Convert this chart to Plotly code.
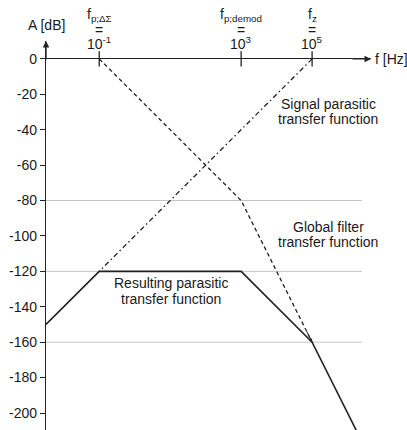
import numpy as np
import plotly.graph_objects as go

# ---- data (frequency in Hz, amplitude in dB) ----
signal_f = [1e-1, 1e3, 1e5]
signal_a = [0, -80, -160]

filter_f = [1e5, 1e-1]
filter_a = [0, -120]

result_f = [10**-2.5, 1e-1, 1e3, 1e5, 10**6.25]
result_a = [-150, -120, -120, -160, -210]

tick_f = [1e-1, 1e3, 1e5]
tick_names = ["f<sub>p;ΔΣ</sub>", "f<sub>p;demod</sub>", "f<sub>z</sub>"]
tick_exp = ["10<sup>-1</sup>", "10<sup>3</sup>", "10<sup>5</sup>"]

y_ticks = list(range(0, -201, -20))
grid_levels = [-80, -120, -160]

x_range_log = [-2.5, 6.66]
y_range = [-209.6, 10.1]

FONT = "Liberation Sans, Arial, sans-serif"
TXT = "#1a1a1a"
LINE = "#222222"
FS = 14

fig = go.Figure()

# grid lines
for g in grid_levels:
    fig.add_shape(type="line", xref="paper", yref="y", x0=0, x1=0.972, y0=g, y1=g,
                  line=dict(color="#c4c4c4", width=1), layer="below")

fig.add_trace(go.Scatter(x=signal_f, y=signal_a, mode="lines",
                         line=dict(color=LINE, width=1.3, dash="4px,3px"), hoverinfo="skip"))
fig.add_trace(go.Scatter(x=filter_f, y=filter_a, mode="lines",
                         line=dict(color=LINE, width=1.3, dash="5px,3px,1.5px,3px"), hoverinfo="skip"))
fig.add_trace(go.Scatter(x=result_f, y=result_a, mode="lines",
                         line=dict(color=LINE, width=1.6), hoverinfo="skip"))
fig.add_trace(go.Scatter(x=tick_f, y=[0] * len(tick_f), mode="markers",
                         marker=dict(symbol="line-ns-open", size=11, color=LINE,
                                     line=dict(color=LINE, width=1.3)),
                         hoverinfo="skip", cliponaxis=False))

ann = []
# x-axis arrow
ann.append(dict(x=x_range_log[1], y=0, xref="x", yref="y", text="", showarrow=True,
                ax=-20, ay=0, arrowhead=2, arrowsize=1, arrowwidth=1.3, arrowcolor=LINE, standoff=0))
# y-axis arrow
ann.append(dict(x=x_range_log[0], y=y_range[1], xref="x", yref="y", text="", showarrow=True,
                ax=0, ay=20, arrowhead=2, arrowsize=1, arrowwidth=1.3, arrowcolor=LINE, standoff=0))
# dashed arrow end
ann.append(dict(x=np.log10(signal_f[-1]), y=signal_a[-1], xref="x", yref="y", text="", showarrow=True,
                ax=-6, ay=-12, arrowhead=2, arrowsize=0.7, arrowwidth=1, arrowcolor=LINE, standoff=0))

ann.append(dict(x=x_range_log[1], y=0, xref="x", yref="y", text="f [Hz]", showarrow=False,
                xanchor="left", xshift=2, font=dict(family=FONT, size=FS, color=TXT)))
ann.append(dict(x=x_range_log[0], y=0, xref="x", yref="y", text="A [dB]", showarrow=False,
                yshift=34, font=dict(family=FONT, size=FS, color=TXT)))

for f, nm, ex in zip(tick_f, tick_names, tick_exp):
    lx = np.log10(f)
    ann.append(dict(x=lx, y=0, xref="x", yref="y", text=ex, showarrow=False, yshift=16,
                    font=dict(family=FONT, size=FS, color=TXT)))
    ann.append(dict(x=lx, y=0, xref="x", yref="y", text="=", showarrow=False, yshift=29,
                    font=dict(family=FONT, size=FS, color=TXT)))
    ann.append(dict(x=lx, y=0, xref="x", yref="y", text=nm, showarrow=False, yshift=44,
                    font=dict(family=FONT, size=FS, color=TXT)))

labels = [
    ("Signal parasitic", 5.45, -25.5),
    ("transfer function", 5.45, -34.0),
    ("Global filter", 5.45, -95.0),
    ("transfer function", 5.45, -103.5),
    ("Resulting parasitic", 1.03, -126.5),
    ("transfer function", 1.03, -135.5),
]
for t, lx, ly in labels:
    ann.append(dict(x=lx, y=ly, xref="x", yref="y", text=t, showarrow=False,
                    font=dict(family=FONT, size=FS, color=TXT)))

fig.update_layout(
    width=407, height=430,
    margin=dict(l=46, r=36, t=41, b=0),
    paper_bgcolor="white", plot_bgcolor="white",
    showlegend=False,
    annotations=ann,
    xaxis=dict(type="log", range=x_range_log, showgrid=False, zeroline=False,
               showticklabels=False, ticks="", showline=False, fixedrange=True),
    yaxis=dict(range=y_range, tickvals=y_ticks, ticktext=[str(v) for v in y_ticks],
               showgrid=False, zeroline=True, zerolinecolor=LINE, zerolinewidth=1.3,
               showline=True, linecolor=LINE, linewidth=1.3,
               ticks="outside", ticklen=5, tickwidth=1.2, tickcolor=LINE,
               tickfont=dict(family=FONT, size=FS, color=TXT), automargin=False, fixedrange=True),
)

fig.write_html("out.html", config={"displayModeBar": False},
               post_script="document.body.style.margin='0';document.body.style.padding='0';")
